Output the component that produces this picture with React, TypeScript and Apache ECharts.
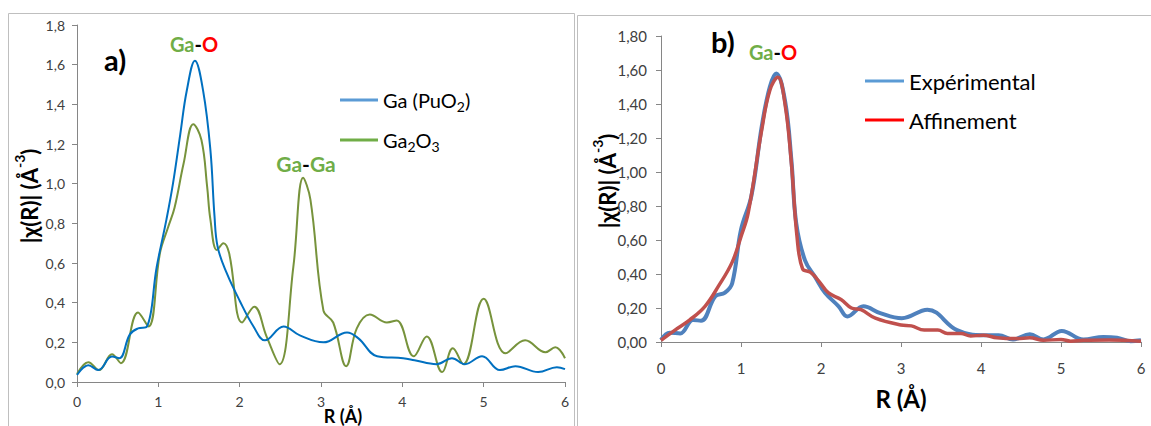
import React, { useEffect, useRef } from 'react';
import * as echarts from 'echarts';

// ---------- Panel a) ----------
const rPuO2 = [0, 0.14, 0.26, 0.43, 0.52, 0.65, 0.75, 0.86, 0.98, 1.10, 1.18, 1.27, 1.35, 1.45, 1.55, 1.64, 1.69, 1.73, 1.84, 2.0, 2.17, 2.31, 2.54, 2.74, 3.03, 3.32, 3.46, 3.69, 4.01, 4.15, 4.42, 4.61, 4.77, 4.98, 5.20, 5.39, 5.67, 5.90, 6.0];
const vPuO2 = [0.035, 0.085, 0.06, 0.128, 0.12, 0.24, 0.27, 0.28, 0.58, 0.82, 1.0, 1.25, 1.47, 1.62, 1.47, 1.17, 0.84, 0.68, 0.55, 0.41, 0.28, 0.21, 0.28, 0.235, 0.20, 0.25, 0.22, 0.13, 0.12, 0.11, 0.09, 0.12, 0.09, 0.13, 0.06, 0.08, 0.05, 0.075, 0.065];

const rGa2O3 = [0, 0.14, 0.27, 0.43, 0.54, 0.75, 0.88, 1.02, 1.12, 1.20, 1.31, 1.43, 1.53, 1.60, 1.64, 1.72, 1.80, 1.87, 2.03, 2.18, 2.33, 2.49, 2.66, 2.78, 2.87, 3.03, 3.15, 3.31, 3.44, 3.60, 3.81, 3.93, 4.14, 4.30, 4.49, 4.62, 4.75, 5.00, 5.27, 5.51, 5.76, 5.88, 6.0];
const vGa2O3 = [0.04, 0.10, 0.06, 0.14, 0.095, 0.35, 0.28, 0.65, 0.78, 0.88, 1.10, 1.30, 1.22, 0.985, 0.82, 0.665, 0.70, 0.65, 0.30, 0.38, 0.23, 0.09, 0.58, 1.03, 0.92, 0.36, 0.30, 0.08, 0.27, 0.34, 0.30, 0.31, 0.13, 0.23, 0.05, 0.17, 0.09, 0.42, 0.145, 0.21, 0.15, 0.175, 0.12];

// ---------- Panel b) ----------
const rExp = [0, 0.11, 0.24, 0.40, 0.50, 0.68, 0.80, 0.89, 1.0, 1.13, 1.26, 1.36, 1.44, 1.55, 1.63, 1.69, 1.80, 1.93, 2.05, 2.22, 2.33, 2.53, 2.74, 3.01, 3.33, 3.70, 4.03, 4.22, 4.40, 4.61, 4.78, 5.01, 5.28, 5.53, 5.70, 5.87, 6.0];
const vExp = [0.012, 0.055, 0.05, 0.13, 0.125, 0.27, 0.29, 0.345, 0.66, 0.86, 1.27, 1.50, 1.58, 1.42, 1.07, 0.70, 0.48, 0.38, 0.29, 0.21, 0.15, 0.21, 0.17, 0.14, 0.19, 0.07, 0.04, 0.04, 0.015, 0.045, 0.015, 0.065, 0.015, 0.03, 0.025, 0.005, 0.01];

const rFit = [0, 0.175, 0.36, 0.55, 0.72, 0.89, 1.0, 1.09, 1.26, 1.36, 1.46, 1.55, 1.63, 1.70, 1.77, 1.87, 1.97, 2.09, 2.25, 2.38, 2.50, 2.68, 3.0, 3.13, 3.29, 3.46, 3.58, 3.75, 3.87, 4.03, 4.2, 4.45, 4.61, 4.78, 5.0, 5.12, 5.28, 5.6, 6.0];
const vFit = [0.01, 0.07, 0.13, 0.21, 0.33, 0.47, 0.62, 0.76, 1.25, 1.48, 1.557, 1.40, 1.05, 0.62, 0.43, 0.41, 0.36, 0.29, 0.25, 0.20, 0.19, 0.14, 0.10, 0.095, 0.07, 0.07, 0.05, 0.05, 0.035, 0.04, 0.025, 0.02, 0.025, 0.01, 0.015, 0.005, 0.01, 0.012, 0.005];

const seriesNamesA = ['Ga (PuO2)', 'Ga2O3'];
const seriesNamesB = ['Expérimental', 'Affinement'];

const FONT = 'Lato, "Open Sans", "DejaVu Sans", sans-serif';
const zip = (xs: number[], ys: number[]) => xs.map((x, i) => [x, ys[i]]);

export default function App() {
  const ref = useRef<HTMLDivElement>(null);
  useEffect(() => {
    if (!ref.current) return;
    const chart = echarts.init(ref.current, undefined, { renderer: 'svg' });
    const axisLine = { show: true, lineStyle: { color: '#868686', width: 1 } };
    const axisTick = { show: true, length: 5, lineStyle: { color: '#868686' } };
    const yTitle = '{b||χ(R)| (Å}{s|-3}{b|)}';
    const yTitleRich = {
      b: { fill: '#000', fontSize: 22, fontWeight: 'bold', fontFamily: FONT, lineHeight: 28, verticalAlign: 'bottom' },
      s: { fill: '#000', fontSize: 14, fontWeight: 'bold', fontFamily: FONT, lineHeight: 14, verticalAlign: 'top' },
    };
    const legendRich = (fs: number, lh: number) => ({
      t: { fontSize: fs, fontFamily: FONT, color: '#000', lineHeight: lh, verticalAlign: 'middle' },
      s: { fontSize: Math.round(fs * 0.68), fontFamily: FONT, color: '#000', lineHeight: 10, verticalAlign: 'bottom' },
    });
    const fmtLegend = (name: string) => {
      if (name === 'Ga (PuO2)') return '{t|Ga (PuO}{s|2}{t|)}';
      if (name === 'Ga2O3') return '{t|Ga}{s|2}{t|O}{s|3}';
      return '{t|' + name + '}';
    };
    const gaO = (fs: number) => ({
      g: { fill: '#70AD47', fontSize: fs, fontWeight: 'bold', fontFamily: FONT },
      k: { fill: '#000', fontSize: fs, fontWeight: 'bold', fontFamily: FONT },
      r: { fill: '#FF0000', fontSize: fs, fontWeight: 'bold', fontFamily: FONT },
    });

    chart.setOption({
      animation: false,
      backgroundColor: '#fff',
      grid: [
        { left: 77, top: 25, width: 488, height: 357, containLabel: false, outerBoundsMode: 'none' },
        { left: 661, top: 36, width: 480, height: 306, containLabel: false, outerBoundsMode: 'none' },
      ],
      xAxis: [
        {
          gridIndex: 0, type: 'value', min: 0, max: 6, interval: 1,
          axisLine, axisTick, splitLine: { show: false },
          axisLabel: { fontSize: 14, color: '#404040', fontFamily: FONT, margin: 12 },
          name: 'R (Å)', nameLocation: 'middle', nameGap: 24, nameMoveOverlap: false,
          nameTextStyle: { fontSize: 18, fontWeight: 'bold', color: '#000', fontFamily: FONT, lineHeight: 19, padding: [0, 0, 0, 44] },
        },
        {
          gridIndex: 1, type: 'value', min: 0, max: 6, interval: 1,
          axisLine, axisTick, splitLine: { show: false },
          axisLabel: { fontSize: 15, color: '#404040', fontFamily: FONT, margin: 18 },
          name: 'R (Å)', nameLocation: 'middle', nameGap: 44, nameMoveOverlap: false,
          nameTextStyle: { fontSize: 24, fontWeight: 'bold', color: '#000', fontFamily: FONT },
        },
      ],
      yAxis: [
        {
          gridIndex: 0, type: 'value', min: 0, max: 1.8, interval: 0.2,
          axisLine, axisTick, splitLine: { show: false },
          axisLabel: { fontSize: 14, color: '#404040', fontFamily: FONT, margin: 12,
            formatter: (v: number) => v.toFixed(1).replace('.', ',') },
        },
        {
          gridIndex: 1, type: 'value', min: 0, max: 1.8, interval: 0.2,
          axisLine, axisTick, splitLine: { show: false },
          axisLabel: { fontSize: 15, color: '#404040', fontFamily: FONT, margin: 14,
            formatter: (v: number) => v.toFixed(2).replace('.', ',') },
        },
      ],
      legend: [
        {
          orient: 'vertical', left: 335, top: 85, icon: 'rect', itemWidth: 38, itemHeight: 3, itemGap: 17,
          data: [
            { name: seriesNamesA[0], itemStyle: { color: '#5B9BD5' } },
            { name: seriesNamesA[1], itemStyle: { color: '#70AD47' } },
          ],
          formatter: fmtLegend,
          textStyle: { fontSize: 20, fontFamily: FONT, color: '#000', rich: legendRich(20, 26) },
          selectedMode: false,
        },
        {
          orient: 'vertical', left: 860, top: 65, icon: 'rect', itemWidth: 39, itemHeight: 3, itemGap: 17,
          data: [
            { name: seriesNamesB[0], itemStyle: { color: '#5B9BD5' } },
            { name: seriesNamesB[1], itemStyle: { color: '#FF0000' } },
          ],
          formatter: fmtLegend,
          textStyle: { fontSize: 22, fontFamily: FONT, color: '#000', rich: legendRich(22, 28) },
          selectedMode: false,
        },
      ],
      series: [
        {
          name: seriesNamesA[0], type: 'line', xAxisIndex: 0, yAxisIndex: 0, data: zip(rPuO2, vPuO2),
          smooth: 0.4, showSymbol: false, symbol: 'none',
          lineStyle: { color: '#0070C0', width: 2 }, itemStyle: { color: '#0070C0' }, z: 3,
        },
        {
          name: seriesNamesA[1], type: 'line', xAxisIndex: 0, yAxisIndex: 0, data: zip(rGa2O3, vGa2O3),
          smooth: 0.4, showSymbol: false, symbol: 'none',
          lineStyle: { color: '#77933C', width: 2 }, itemStyle: { color: '#77933C' }, z: 2,
        },
        {
          name: seriesNamesB[0], type: 'line', xAxisIndex: 1, yAxisIndex: 1, data: zip(rExp, vExp),
          smooth: 0.4, showSymbol: false, symbol: 'none',
          lineStyle: { color: '#4F81BD', width: 4 }, itemStyle: { color: '#4F81BD' }, z: 2,
        },
        {
          name: seriesNamesB[1], type: 'line', xAxisIndex: 1, yAxisIndex: 1, data: zip(rFit, vFit),
          smooth: 0.4, showSymbol: false, symbol: 'none',
          lineStyle: { color: '#C0504D', width: 3.5 }, itemStyle: { color: '#C0504D' }, z: 3,
        },
      ],
      graphic: [
        { type: 'rect', silent: true, z: -10, shape: { x: 8.5, y: 13.5, width: 566, height: 450 },
          style: { fill: 'none', stroke: '#BFBFBF', lineWidth: 1 } },
        { type: 'rect', silent: true, z: -10, shape: { x: 577.5, y: 15.5, width: 600, height: 450 },
          style: { fill: 'none', stroke: '#BFBFBF', lineWidth: 1 } },
        { type: 'text', x: 26, y: 196, rotation: Math.PI / 2,
          style: { text: yTitle, rich: yTitleRich, align: 'center', verticalAlign: 'middle' } },
        { type: 'text', x: 604, y: 181, rotation: Math.PI / 2,
          style: { text: yTitle, rich: yTitleRich, align: 'center', verticalAlign: 'middle' } },
        { type: 'text', x: 104, y: 59, style: { text: 'a)', fill: '#000', font: 'bold 29px ' + FONT, verticalAlign: 'middle', align: 'left' } },
        { type: 'text', x: 194, y: 44, style: { text: '{g|Ga}{k|-}{r|O}', rich: gaO(20), align: 'center', verticalAlign: 'middle' } },
        { type: 'text', x: 306, y: 163, style: { text: '{g|Ga}{k|-}{g|Ga}', rich: gaO(21), align: 'center', verticalAlign: 'middle' } },
        { type: 'text', x: 711, y: 41, style: { text: 'b)', fill: '#000', font: 'bold 29px ' + FONT, verticalAlign: 'middle', align: 'left' } },
        { type: 'text', x: 773, y: 52, style: { text: '{g|Ga}{k|-}{r|O}', rich: gaO(20), align: 'center', verticalAlign: 'middle' } },
      ],
    });
    return () => chart.dispose();
  }, []);
  return (
    <div
      ref={ref}
      style={{ position: 'fixed', left: 0, top: 0, width: 1151, height: 426, background: '#fff' }}
    />
  );
}
